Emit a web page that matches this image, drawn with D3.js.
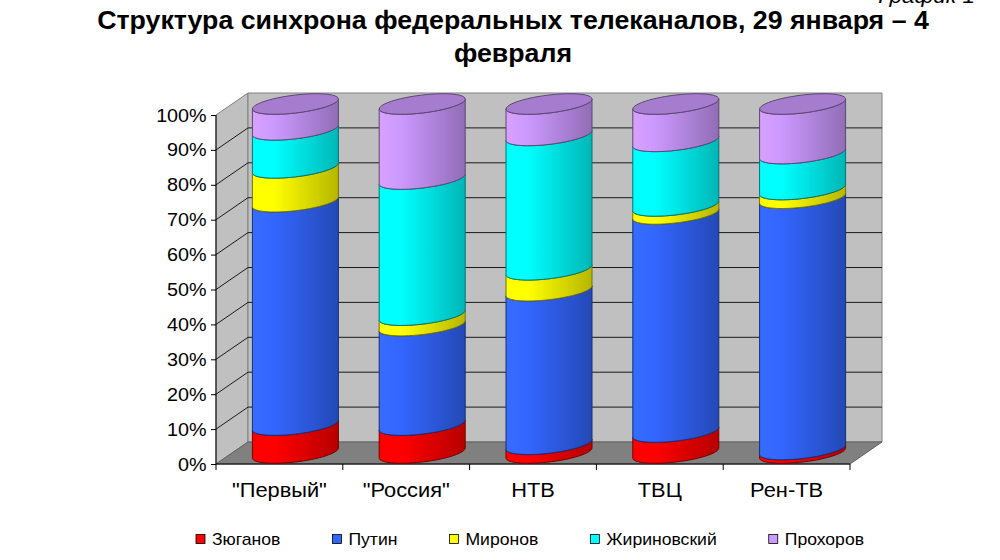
<!DOCTYPE html>
<html><head><meta charset="utf-8">
<script src="https://cdn.jsdelivr.net/npm/d3@7"></script>
<style>body{margin:0;background:#fff}svg{display:block;font-family:"Liberation Sans",Arial,sans-serif}</style>
</head><body><svg id="c" width="1000" height="560"></svg>
<script>
// ---- data ----
const categories = ['"Первый"', '"Россия"', 'НТВ', 'ТВЦ', 'Рен-ТВ'];
const seriesNames = ['Зюганов', 'Путин', 'Миронов', 'Жириновский', 'Прохоров'];
const zyuganov    = [8,    8,    2.5,  6,    1];
const putin       = [64,   28.5, 44,   62.5, 72];
const mironov     = [9.7,  3,    6,    2.3,  2.5];
const zhirinovsky = [10.9, 39,   38.5, 18.5, 10.3];
const prokhorov   = [7.4,  21.5, 9,    10.7, 14.2];
const yTickValues = [0, 0.1, 0.2, 0.3, 0.4, 0.5, 0.6, 0.7, 0.8, 0.9, 1];
const titleLines = ['Структура синхрона федеральных телеканалов, 29 января – 4', 'февраля'];
const cornerLabel = 'График 1';

const seriesValues = [zyuganov, putin, mironov, zhirinovsky, prokhorov];
const seriesColors = ['#ff0000', '#3366ff', '#ffff00', '#00ffff', '#cc99ff'];

const rows = categories.map((c, i) => {
  const r = {cat: c};
  seriesNames.forEach((s, j) => r[s] = seriesValues[j][i]);
  return r;
});
const stacked = d3.stack().keys(seriesNames).offset(d3.stackOffsetExpand)(rows);

// ---- geometry ----
const svg = d3.select('#c');
const FONT = '"Liberation Sans",Arial,sans-serif';
const X0 = 216, X1 = 850, Y0 = 464, Y1 = 115, DX = 32, DY = -22;
const x = d3.scaleBand().domain(categories).range([X0, X1]);
const y = d3.scaleLinear().domain([0, 1]).range([Y0, Y1]);
const ym = v => y(v) + DY / 2;
const RX = 43, RY = 9, K = 5;

// gradients
const defs = svg.append('defs');
seriesColors.forEach((c, i) => {
  const g = defs.append('linearGradient').attr('id', 'g' + i).attr('x1', 0).attr('x2', 1).attr('y1', 0).attr('y2', 0);
  const base = d3.color(c);
  g.append('stop').attr('offset', '0%').attr('stop-color', base.brighter(0.15).formatHex());
  g.append('stop').attr('offset', '25%').attr('stop-color', base.formatHex());
  g.append('stop').attr('offset', '100%').attr('stop-color', base.darker(0.95).formatHex());
});

// walls & floor
const poly = pts => 'M' + pts.map(p => p.join(',')).join('L') + 'Z';
svg.append('path').attr('d', poly([[X0, Y1], [X0 + DX, Y1 + DY], [X0 + DX, Y0 + DY], [X0, Y0]]))
  .attr('fill', '#c0c0c0').attr('stroke', '#808080');
svg.append('path').attr('d', poly([[X0 + DX, Y1 + DY], [X1 + DX, Y1 + DY], [X1 + DX, Y0 + DY], [X0 + DX, Y0 + DY]]))
  .attr('fill', '#c0c0c0').attr('stroke', '#808080');
svg.append('path').attr('d', poly([[X0, Y0], [X0 + DX, Y0 + DY], [X1 + DX, Y0 + DY], [X1, Y0]]))
  .attr('fill', '#808080').attr('stroke', '#606060');

// gridlines
svg.append('g').selectAll('path').data(yTickValues.filter(t => t > 0 && t < 1)).join('path')
  .attr('d', t => `M${X0},${y(t)}L${X0 + DX},${y(t) + DY}L${X1 + DX},${y(t) + DY}`)
  .attr('fill', 'none').attr('stroke', '#1a1a1a').attr('stroke-width', 1);

// axes
const yAxis = d3.axisLeft(y).tickValues(yTickValues).tickFormat(d3.format('.0%')).tickSize(5).tickPadding(4);
const gy = svg.append('g').attr('transform', `translate(${X0},0)`).call(yAxis);
gy.select('.domain').attr('d', `M0,${Y1}V${Y0}`).attr('stroke', '#000');
gy.selectAll('text').attr('font-size', 19).attr('font-family', FONT).attr('fill', '#000')
  .attr('transform', 'scale(1.04,1)');

const xAxis = d3.axisBottom(x).tickSize(0).tickPadding(19);
const gx = svg.append('g').attr('transform', `translate(0,${Y0})`).call(xAxis);
gx.select('.domain').attr('d', `M${X0},0H${X1}`).attr('stroke', '#000');
gx.selectAll('text').attr('font-size', 19.5).attr('font-family', FONT).attr('fill', '#000')
  .attr('transform', 'scale(1.12,1)');
const bounds = categories.map(c => x(c)).concat([x(categories[categories.length - 1]) + x.bandwidth()]);
gx.append('g').selectAll('line').data(bounds).join('line')
  .attr('x1', d => d).attr('x2', d => d).attr('y1', 0).attr('y2', 6).attr('stroke', '#000');

// cylinders
const N = 48;
const arcPts = (cx, cy, a0, a1) => d3.range(N + 1).map(i => {
  const t = a0 + (a1 - a0) * i / N;
  return [cx + RX * Math.cos(t), cy + RY * Math.sin(t) - K * Math.cos(t)];
});
const line = d3.line();
const cyl = svg.append('g');
categories.forEach((cat, ci) => {
  const cx = x(cat) + x.bandwidth() / 2 + DX / 2;
  stacked.forEach((ser, si) => {
    const [v0, v1] = ser[ci];
    const bottom = arcPts(cx, ym(v0), Math.PI, 0);
    const top = arcPts(cx, ym(v1), 0, Math.PI);
    cyl.append('path').attr('d', line(bottom.concat(top)) + 'Z')
      .attr('fill', `url(#g${si})`)
      .attr('stroke', d3.color(seriesColors[si]).darker(2.2).formatHex())
      .attr('stroke-width', 1).attr('stroke-linejoin', 'round');
  });
  const last = stacked.length - 1;
  const capPts = arcPts(cx, ym(1), 0, Math.PI * 2);
  cyl.append('path').attr('d', line(capPts) + 'Z')
    .attr('fill', d3.color(seriesColors[last]).darker(0.6).formatHex())
    .attr('stroke', d3.color(seriesColors[last]).darker(2.2).formatHex()).attr('stroke-width', 1);
});

// title
svg.append('text').attr('transform', 'translate(975,3) scale(1.07,1)').attr('text-anchor', 'end')
  .attr('font-size', 21).attr('font-style', 'italic').text(cornerLabel);
svg.append('g').selectAll('text').data(titleLines).join('text')
  .attr('transform', (d, i) => `translate(513,${29 + i * 33}) scale(1.07,1)`).attr('text-anchor', 'middle')
  .attr('font-size', 25).attr('font-weight', 'bold').text(d => d);

// legend
const lg = svg.append('g');
const items = seriesNames.map((s, i) => {
  const g = lg.append('g');
  g.append('rect').attr('x', 0).attr('y', -4.5).attr('width', 9).attr('height', 9)
    .attr('fill', seriesColors[i]).attr('stroke', '#000').attr('stroke-width', 0.8);
  const t = g.append('text').attr('transform', 'translate(16,0) scale(1.1,1)').attr('dy', '0.35em')
    .attr('font-size', 16).text(s);
  return {g, w: 16 + t.node().getComputedTextLength() * 1.1};
});
const LX0 = 196, LX1 = 864;
const GAP = (LX1 - LX0 - d3.sum(items, d => d.w)) / (items.length - 1);
let lx = LX0;
items.forEach(it => { it.g.attr('transform', `translate(${lx},539)`); lx += it.w + GAP; });
</script>
</body></html>
